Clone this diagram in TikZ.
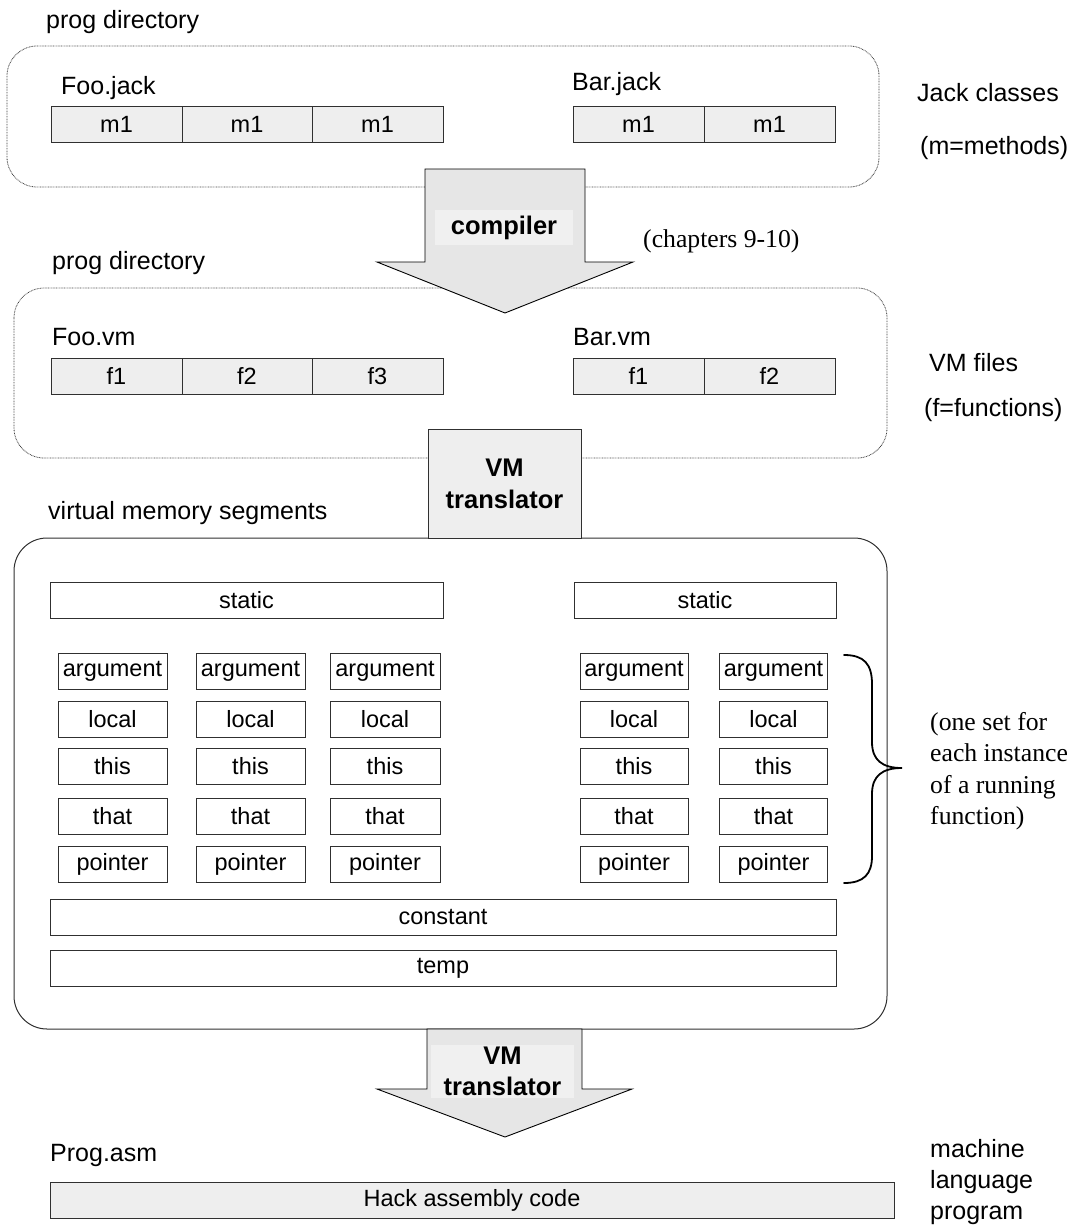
\documentclass[tikz,border=0pt]{standalone}
\usepackage{fontspec}
\setmainfont{Liberation Sans}
\newfontfamily\tms{Liberation Serif}
\definecolor{cellgray}{HTML}{EEEEEE}
\definecolor{arrowgray}{HTML}{E6E6E6}
\definecolor{lblgray}{HTML}{F0F0F0}
\definecolor{edge}{HTML}{303030}
\begin{document}
\begin{tikzpicture}[x=1pt,y=-1pt,
  dirbox/.style={draw=black!75, dash pattern=on 0.8pt off 0.8pt, line width=0.8pt, rounded corners=30pt},
  membox/.style={draw=edge, line width=1pt, rounded corners=33pt},
  cell/.style={draw=edge, fill=cellgray, line width=0.9pt, inner sep=0pt, minimum height=36pt, font=\fontsize{23.5}{28}\selectfont},
  seg/.style={draw=edge, fill=white, line width=0.9pt, inner sep=0pt, minimum height=36pt, font=\fontsize{23.5}{28}\selectfont},
  lbl/.style={anchor=west, inner sep=0pt, font=\fontsize{25}{30}\selectfont},
  serif/.style={anchor=west, inner sep=0pt, align=left, font=\tms\fontsize{25.7}{31.5}\selectfont},
  blockarrow/.style={draw=black, fill=arrowgray, line width=0.9pt, line join=miter},
  arrowlbl/.style={fill=lblgray, inner sep=0pt, align=center, font=\bfseries\fontsize{25.5}{31}\selectfont}
]
\useasboundingbox (0,0) rectangle (1078,1226);

% ---------- containers ----------
\draw[dirbox] (7,46) rectangle (879,187);
\draw[dirbox] (14,288) rectangle (887,458);
\draw[membox] (14,538) rectangle (887,1029);

% ---------- Jack classes ----------
\node[lbl] (pd1) at (46,22) {prog directory};
\node[lbl] (foojack) at (61,88) {Foo.jack};
\node[lbl] (barjack) at (572,84) {Bar.jack};
\node[cell, minimum width=131pt] (jm1) at (116.5,124) {m1};
\node[cell, minimum width=130pt] (jm2) at (247,124) {m1};
\node[cell, minimum width=131pt] (jm3) at (377.5,124) {m1};
\node[cell, minimum width=131pt] (jb1) at (638.5,124) {m1};
\node[cell, minimum width=131pt] (jb2) at (769.5,124) {m1};
\node[lbl] (jackcl) at (917,93) {Jack classes};
\node[lbl] (mmeth) at (920,148) {(m=methods)};

% ---------- compiler arrow ----------
\draw[blockarrow] (425,169) -- (585,169) -- (585,262) -- (633,262) -- (505,313)
  -- (377,262) -- (425,262) -- cycle;
\node[arrowlbl, minimum width=138pt, minimum height=35pt] (compiler) at (504,227.5) {compiler};
\node[serif] (chap) at (643,241) {(chapters 9-10)};

% ---------- VM files ----------
\node[lbl] (pd2) at (52,263) {prog directory};
\node[lbl] (foovm) at (52,337) {Foo.vm};
\node[lbl] (barvm) at (573,337) {Bar.vm};
\node[cell, minimum width=131pt] (vf1) at (116.5,376) {f1};
\node[cell, minimum width=130pt] (vf2) at (247,376) {f2};
\node[cell, minimum width=131pt] (vf3) at (377.5,376) {f3};
\node[cell, minimum width=131pt] (vb1) at (638.5,376) {f1};
\node[cell, minimum width=131pt] (vb2) at (769.5,376) {f2};
\node[lbl] (vmfiles) at (929,363) {VM files};
\node[lbl] (ffunc) at (924,410) {(f=functions)};

% ---------- VM translator box ----------
\node[draw=edge, fill=cellgray, line width=0.9pt, minimum width=153pt, minimum height=109pt,
  inner sep=0pt, align=center, font=\bfseries\fontsize{25.5}{32}\selectfont] (vmt1) at (504.5,483.5) {VM\\translator};

% ---------- virtual memory segments ----------
\node[lbl] (vms) at (48,513) {virtual memory segments};
\node[seg, minimum width=393pt] (st1) at (246.5,600) {static};
\node[seg, minimum width=262pt] (st2) at (705,600) {static};

\foreach \cx/\w [count=\i] in {112.5/109, 250.5/109, 385/110, 634/108, 773.5/108} {
  \node[seg, minimum width=\w pt] (arg\i) at (\cx,671.5) {argument};
  \node[seg, minimum width=\w pt] (loc\i) at (\cx,719) {local};
  \node[seg, minimum width=\w pt] (this\i) at (\cx,766) {this};
  \node[seg, minimum width=\w pt] (that\i) at (\cx,816) {that};
  \node[seg, minimum width=\w pt] (ptr\i) at (\cx,864) {pointer};
}
\node[seg, minimum width=786pt] (const) at (443,917) {constant};
\node[seg, minimum width=786pt] (temp) at (443,968) {temp};

% brace
\draw[line width=1.8pt, line cap=round]
  (844,655) .. controls (864,655) and (872,664) .. (872,684) -- (872,742)
  .. controls (872,760) and (882,768) .. (902,768)
  .. controls (882,768) and (872,776) .. (872,794) -- (872,856)
  .. controls (872,874) and (864,883) .. (844,883);
\node[serif] (oneset) at (930,771) {(one set for\\each instance\\of a running\\function)};

% ---------- bottom arrow ----------
\draw[blockarrow] (427,1029) -- (582,1029) -- (582,1089) -- (632,1089) -- (505,1137)
  -- (377,1089) -- (427,1089) -- cycle;
\node[arrowlbl, minimum width=143pt, minimum height=53pt] (vmt2) at (502.5,1071.5) {VM\\translator};

% ---------- Prog.asm ----------
\node[lbl] (progasm) at (50,1155) {Prog.asm};
\node[cell, minimum width=844pt] (hack) at (472,1200) {Hack assembly code};
\node[lbl, align=left, font=\fontsize{25}{31}\selectfont] (mlp) at (930,1182) {machine\\language\\program};
\end{tikzpicture}
\end{document}
